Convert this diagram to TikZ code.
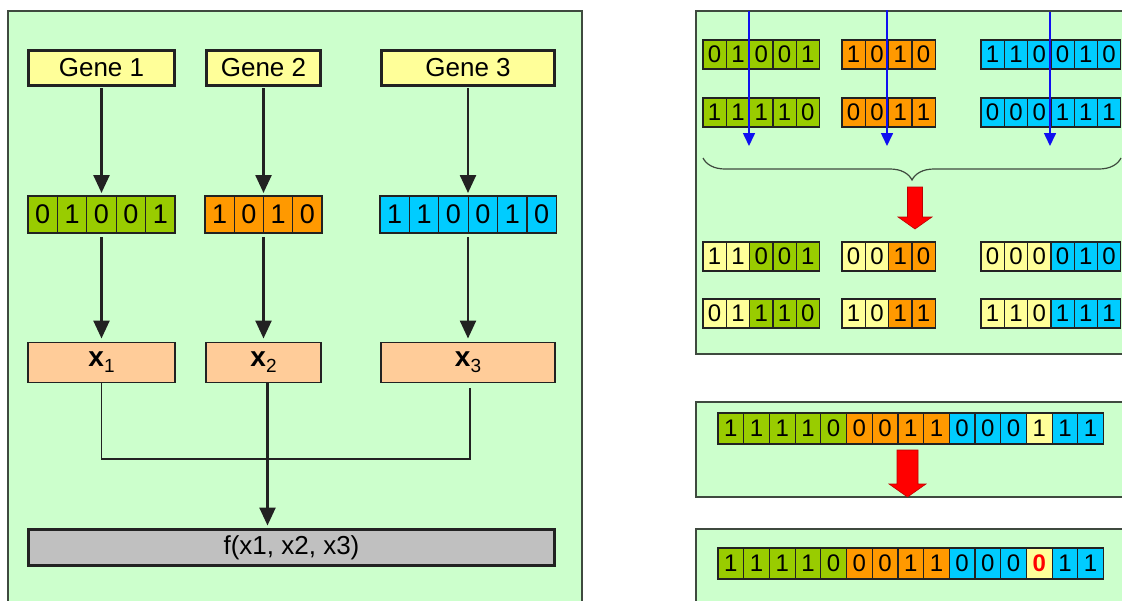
\documentclass[tikz,border=0pt]{standalone}
\usepackage{fontspec}
\setmainfont{Liberation Sans}
\usetikzlibrary{arrows.meta,decorations.pathreplacing,calc}

\definecolor{panelbg}{HTML}{CCFFCC}
\definecolor{panelline}{HTML}{3F4A3F}
\definecolor{genefill}{HTML}{FFFF99}
\definecolor{grn}{HTML}{99CC00}
\definecolor{org}{HTML}{FF9900}
\definecolor{cyn}{HTML}{00CCFF}
\definecolor{yel}{HTML}{FFFF99}
\definecolor{peach}{HTML}{FFCC99}
\definecolor{fgray}{HTML}{C0C0C0}
\definecolor{inkline}{HTML}{222222}
\definecolor{bluearrow}{HTML}{1010F0}

\tikzset{
  panel/.style={draw=panelline, fill=panelbg, line width=1.5pt},
  plainbox/.style={draw=inkline, inner sep=0pt, outer sep=0pt,
    font=\fontsize{26}{26}\selectfont},
  genebox/.style={plainbox, fill=genefill, line width=3pt, minimum height=35pt},
  xbox/.style={plainbox, fill=peach, line width=1.8pt, minimum height=40pt},
  fbox/.style={plainbox, fill=fgray, line width=3pt, minimum height=36pt},
  bitcell/.style={draw=inkline, line width=1.2pt, inner sep=0pt, outer sep=0pt,
    anchor=north west},
  conn/.style={draw=inkline, line width=2.5pt, -{Triangle[length=18pt,width=16pt]}},
  joinline/.style={draw=inkline, line width=1.5pt},
  cutarrow/.style={draw=bluearrow, line width=1.6pt, -{Triangle[length=13pt,width=12pt]}},
}

% one row of bit cells: name, left x, top y, cell width, cell height, font size, colour/digit list
\newcommand\bitrow[7]{%
  \foreach \cc/\bv [count=\i from 0] in {#7}{%
    \node[bitcell, fill=\cc, minimum width=#4pt, minimum height=#5pt,
      font=\fontsize{#6}{#6}\selectfont] (#1-\i) at ({#2+\i*#4},#3) {\bv};
  }}

% block arrow pointing down: centre x, top, tip, shaft half width, head half width, head length
\newcommand\downblock[6]{%
  \filldraw[fill=red, draw=red!75!black, line width=0.6pt]
    (#1-#4,#2) -- (#1+#4,#2) -- (#1+#4,#3-#6) -- (#1+#5,#3-#6) -- (#1,#3)
    -- (#1-#5,#3-#6) -- (#1-#4,#3-#6) -- cycle;}

\newcommand\flipbit{\textcolor{red}{\bfseries 0}}
\newcommand\xlab[1]{{\fontsize{28}{28}\selectfont\bfseries x}\raisebox{-6pt}{\fontsize{19}{19}\selectfont #1}}

\begin{document}
\begin{tikzpicture}[x=1pt,y=-1pt]
\useasboundingbox (0,0) rectangle (1122,600);
\clip (0,0) rectangle (1122,600);
\fill[white] (0,0) rectangle (1122,600);

% ---------------- left panel: genes decoded into variables ----------------
\draw[panel] (8,11) rectangle (582,612);

\node[genebox, minimum width=146pt] (gene1) at (101.5,67.5) {Gene 1};
\node[genebox, minimum width=114pt] (gene2) at (263.5,67.5) {Gene 2};
\node[genebox, minimum width=173pt] (gene3) at (468,67.5) {Gene 3};

\bitrow{a}{28}{196}{29.4}{37}{27}{grn/0,grn/1,grn/0,grn/0,grn/1}
\bitrow{b}{205}{196}{29.25}{37}{27}{org/1,org/0,org/1,org/0}
\bitrow{c}{380}{196}{29.4}{37}{27}{cyn/1,cyn/1,cyn/0,cyn/0,cyn/1,cyn/0}

\node[xbox, minimum width=147pt] (x1) at (101.5,362.5) {\xlab{1}};
\node[xbox, minimum width=115pt] (x2) at (263.5,362.5) {\xlab{2}};
\node[xbox, minimum width=174pt] (x3) at (468,362.5) {\xlab{3}};

\node[fbox, minimum width=526pt] (f) at (291.5,547.5) {f(x1, x2, x3)};

\coordinate (a-top) at (101.5,196);
\coordinate (b-top) at (263.5,196);
\coordinate (c-top) at (468,196);
\coordinate (a-bot) at (101.5,233);
\coordinate (b-bot) at (263.5,233);
\coordinate (c-bot) at (468,233);

\draw[conn, shorten <=3pt, shorten >=3pt] (gene1.south) -- (a-top);
\draw[conn, shorten <=3pt, shorten >=3pt] (gene2.south) -- (b-top);
\draw[conn, shorten <=3pt, shorten >=3pt] (gene3.south) -- (c-top);
\draw[conn, shorten <=4pt, shorten >=4pt] (a-bot) -- (x1.north);
\draw[conn, shorten <=4pt, shorten >=4pt] (b-bot) -- (x2.north);
\draw[conn, shorten <=4pt, shorten >=4pt] (c-bot) -- (x3.north);

\coordinate (j) at (0,459);
\draw[joinline] (x1.south) -- (x1.south |- j) -- ([xshift=2pt]x3.south |- j)
  -- ([xshift=2pt,yshift=-5pt]x3.south);
\draw[conn, shorten >=4pt] ([xshift=4pt]x2.south) -- ([xshift=4pt]x2.south |- f.north);

% ---------------- right top panel: one-point crossover ----------------
\draw[panel] (696,11) rectangle (1132,354);

\bitrow{p1a}{703}{40}{23.3}{29}{24}{grn/0,grn/1,grn/0,grn/0,grn/1}
\bitrow{p1b}{842}{40}{23.3}{29}{24}{org/1,org/0,org/1,org/0}
\bitrow{p1c}{981}{40}{23.3}{29}{24}{cyn/1,cyn/1,cyn/0,cyn/0,cyn/1,cyn/0}

\bitrow{p2a}{703}{98}{23.3}{29}{24}{grn/1,grn/1,grn/1,grn/1,grn/0}
\bitrow{p2b}{842}{98}{23.3}{29}{24}{org/0,org/0,org/1,org/1}
\bitrow{p2c}{981}{98}{23.3}{29}{24}{cyn/0,cyn/0,cyn/0,cyn/1,cyn/1,cyn/1}

\coordinate (cut1-top) at (749,11);
\coordinate (cut1-bot) at (749,146);
\coordinate (cut2-top) at (887,10);
\coordinate (cut2-bot) at (887,146);
\coordinate (cut3-top) at (1050,12);
\coordinate (cut3-bot) at (1050,146);
\draw[cutarrow] (cut1-top) -- (cut1-bot);
\draw[cutarrow] (cut2-top) -- (cut2-bot);
\draw[cutarrow] (cut3-top) -- (cut3-bot);

\draw[panelline, line width=1.2pt, decorate,
  decoration={brace, amplitude=22pt, mirror}] (703,158) -- (1121,158);

\downblock{915}{187}{229}{7.5}{17}{12}

\bitrow{c1a}{703}{242}{23.3}{29}{24}{yel/1,yel/1,grn/0,grn/0,grn/1}
\bitrow{c1b}{842}{242}{23.3}{29}{24}{yel/0,yel/0,org/1,org/0}
\bitrow{c1c}{981}{242}{23.3}{29}{24}{yel/0,yel/0,yel/0,cyn/0,cyn/1,cyn/0}

\bitrow{c2a}{703}{299}{23.3}{29}{24}{yel/0,yel/1,grn/1,grn/1,grn/0}
\bitrow{c2b}{842}{299}{23.3}{29}{24}{yel/1,yel/0,org/1,org/1}
\bitrow{c2c}{981}{299}{23.3}{29}{24}{yel/1,yel/1,yel/0,cyn/1,cyn/1,cyn/1}

% ---------------- right middle panel: chromosome before mutation ----------------
\draw[panel] (696,402) rectangle (1132,497);
\bitrow{m}{718}{413}{25.7}{31}{24}{grn/1,grn/1,grn/1,grn/1,grn/0,org/0,org/0,org/1,org/1,cyn/0,cyn/0,cyn/0,yel/1,cyn/1,cyn/1}
\downblock{907.5}{450}{497}{10.5}{18.5}{13}

% ---------------- right bottom panel: chromosome after mutation ----------------
\draw[panel] (696,529) rectangle (1132,612);
\bitrow{n}{718}{548}{25.7}{31}{24}{grn/1,grn/1,grn/1,grn/1,grn/0,org/0,org/0,org/1,org/1,cyn/0,cyn/0,cyn/0,yel/\flipbit,cyn/1,cyn/1}
\end{tikzpicture}
\end{document}
